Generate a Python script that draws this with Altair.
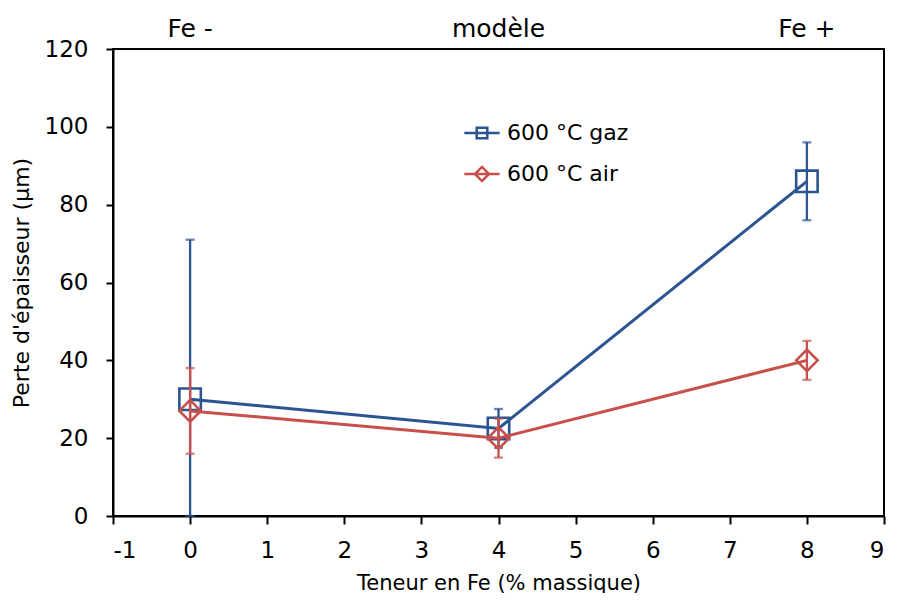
import altair as alt
import pandas as pd

fe = [0, 4, 8]
gaz_mean = [30, 22.5, 86]
gaz_low = [0, 17.5, 76]
gaz_high = [71, 27.5, 96]
air_mean = [27, 20, 40]
air_low = [16, 15, 35]
air_high = [38, 25, 45]
series = ["600 °C gaz", "600 °C air"]
top_labels = ["Fe -", "modèle", "Fe +"]
colors = ["#2B5491", "#C8504C"]
shapes = ["square", "diamond"]
legend_paths = [
    "M-1,0H1M-0.3,-0.3H0.3V0.3H-0.3Z",
    "M-1,0H1M-0.4,0L0,-0.4L0.4,0L0,0.4Z",
]

rows = []
for s, m, lo, hi in [(series[0], gaz_mean, gaz_low, gaz_high),
                     (series[1], air_mean, air_low, air_high)]:
    for i, xv in enumerate(fe):
        rows.append(dict(serie=s, fe=xv, val=m[i], lo=lo[i], hi=hi[i]))
df = pd.DataFrame(rows)

FONT = "DejaVu Sans"
xscale = alt.Scale(domain=[-1, 9], nice=False)
yscale = alt.Scale(domain=[0, 120], nice=False)

X = alt.X("fe:Q", scale=xscale,
          axis=alt.Axis(values=list(range(-1, 10)), title="Teneur en Fe (% massique)",
                        labelExpr="'' + datum.value", titleFontSize=21,
                        grid=False, tickSize=8, labelPadding=15, titlePadding=10))
Y = alt.Y("val:Q", scale=yscale,
          axis=alt.Axis(values=list(range(0, 121, 20)), title="Perte d'épaisseur (µm)",
                        titleFontSize=22,
                        grid=False, tickSize=7, labelPadding=18, titlePadding=11))

base = alt.Chart(df)
layers = []
for s, c, shp in zip(series, colors, shapes):
    b = base.transform_filter(alt.datum.serie == s)
    layers.append(b.mark_rule(color=c, strokeWidth=2.3).encode(x=X, y=alt.Y("lo:Q", scale=yscale), y2="hi:Q"))
    layers.append(b.mark_tick(color=c, thickness=2.3, size=9, orient="horizontal").encode(x=X, y=alt.Y("lo:Q", scale=yscale)))
    layers.append(b.mark_tick(color=c, thickness=2.3, size=9, orient="horizontal").encode(x=X, y=alt.Y("hi:Q", scale=yscale)))
    layers.append(b.mark_line(color=c, strokeWidth=3).encode(x=X, y=Y))
    layers.append(b.mark_point(color=c, shape=shp, filled=False, opacity=1, size=460, strokeWidth=2.6).encode(x=X, y=Y))

leg = alt.Legend(title=None, orient="none", legendX=350, legendY=65,
                 labelFontSize=22, labelFont=FONT, labelColor="black",
                 symbolSize=1250, symbolStrokeWidth=2.5, symbolOpacity=1,
                 rowPadding=11, labelOffset=6)
legend_layer = base.transform_filter("false").mark_point(filled=False, opacity=1, strokeWidth=2).encode(
    x=X, y=Y,
    color=alt.Color("serie:N", scale=alt.Scale(domain=series, range=colors), legend=leg),
    shape=alt.Shape("serie:N", scale=alt.Scale(domain=series, range=legend_paths), legend=leg),
)

top_df = pd.DataFrame({"fe": fe, "lab": top_labels})
top_layer = alt.Chart(top_df).mark_text(font=FONT, fontSize=25, color="black",
                                        baseline="alphabetic", align="center").encode(
    x=alt.X("fe:Q", scale=xscale),
    y=alt.value(-12),
    text="lab:N",
)

chart = alt.layer(*layers, legend_layer, top_layer).properties(
    width=771, height=467,
    autosize=alt.AutoSizeParams(type="none"),
    padding={"left": 105, "top": 41, "right": 5, "bottom": 77},
).configure_view(stroke="black", strokeWidth=2).configure_axis(
    labelFont=FONT, titleFont=FONT, labelFontSize=23,
    labelColor="black", titleColor="black", domainColor="black", tickColor="black",
    titleFontWeight="normal", domainWidth=2, tickWidth=2,
)

chart.save("out.html", embed_options={"renderer": "svg", "actions": False})
